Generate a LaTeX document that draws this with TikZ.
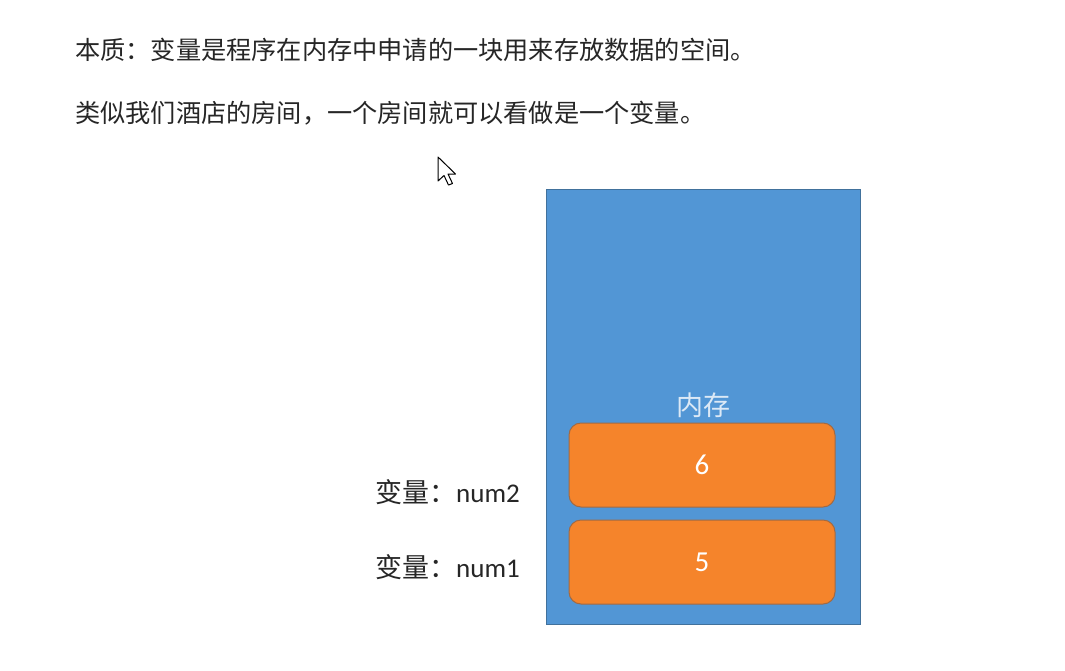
\documentclass[tikz,border=0pt]{standalone}
\usepackage{fontspec}
\setmainfont{Noto Sans CJK SC}
\newfontfamily\cjk{Noto Sans CJK SC}
\newfontfamily\lat{Carlito}
\definecolor{memblue}{HTML}{5296D5}
\definecolor{memborder}{HTML}{41719C}
\definecolor{cellorange}{HTML}{F5842B}
\definecolor{cellborder}{HTML}{A06A45}
\definecolor{memtext}{HTML}{DCE9F6}
\definecolor{bodytext}{HTML}{262626}
\tikzset{
  mem/.style={draw=memborder, fill=memblue, line width=1.4pt, inner sep=0pt},
  cell/.style={draw=cellborder, fill=cellorange, rounded corners=12pt, line width=1pt,
    inner sep=0pt, minimum width=266pt, minimum height=84pt, text=white,
    font=\lat\fontsize{29}{32}\selectfont},
  para/.style={anchor=west, inner sep=0pt, text=bodytext, font=\cjk\fontsize{25.2}{30}\selectfont},
  varlbl/.style={anchor=east, inner sep=0pt, text=black!85, font=\fontsize{27}{30}\selectfont},
}
\begin{document}
\begin{tikzpicture}[x=1pt,y=-1pt]
\useasboundingbox[fill=white] (0,0) rectangle (1065,670);
\node[para] (l1) at (75,50) {本质：变量是程序在内存中申请的一块用来存放数据的空间。};
\node[para] (l2) at (75,113) {类似我们酒店的房间，一个房间就可以看做是一个变量。};
% mouse cursor
\draw[fill=white, line width=1pt, line join=round] (438,157) -- (438,181) -- (444,175.5) -- (448.5,185) -- (452.5,183.5) -- (448,174) -- (455.5,174) -- cycle;
\node[mem, minimum width=314pt, minimum height=435pt, anchor=north west] (mem) at (546,189) {};
\node[text=memtext, inner sep=0pt, font=\cjk\fontsize{27}{30}\selectfont] (memlbl) at (703,405) {内存};
\node[cell] (c6) at (702,465) {6};
\node[cell] (c5) at (702,562) {5};
\node[varlbl] (v2) at (520,492) {{\cjk 变量：}{\lat num2}};
\node[varlbl] (v1) at (520,567) {{\cjk 变量：}{\lat num1}};
\end{tikzpicture}
\end{document}
